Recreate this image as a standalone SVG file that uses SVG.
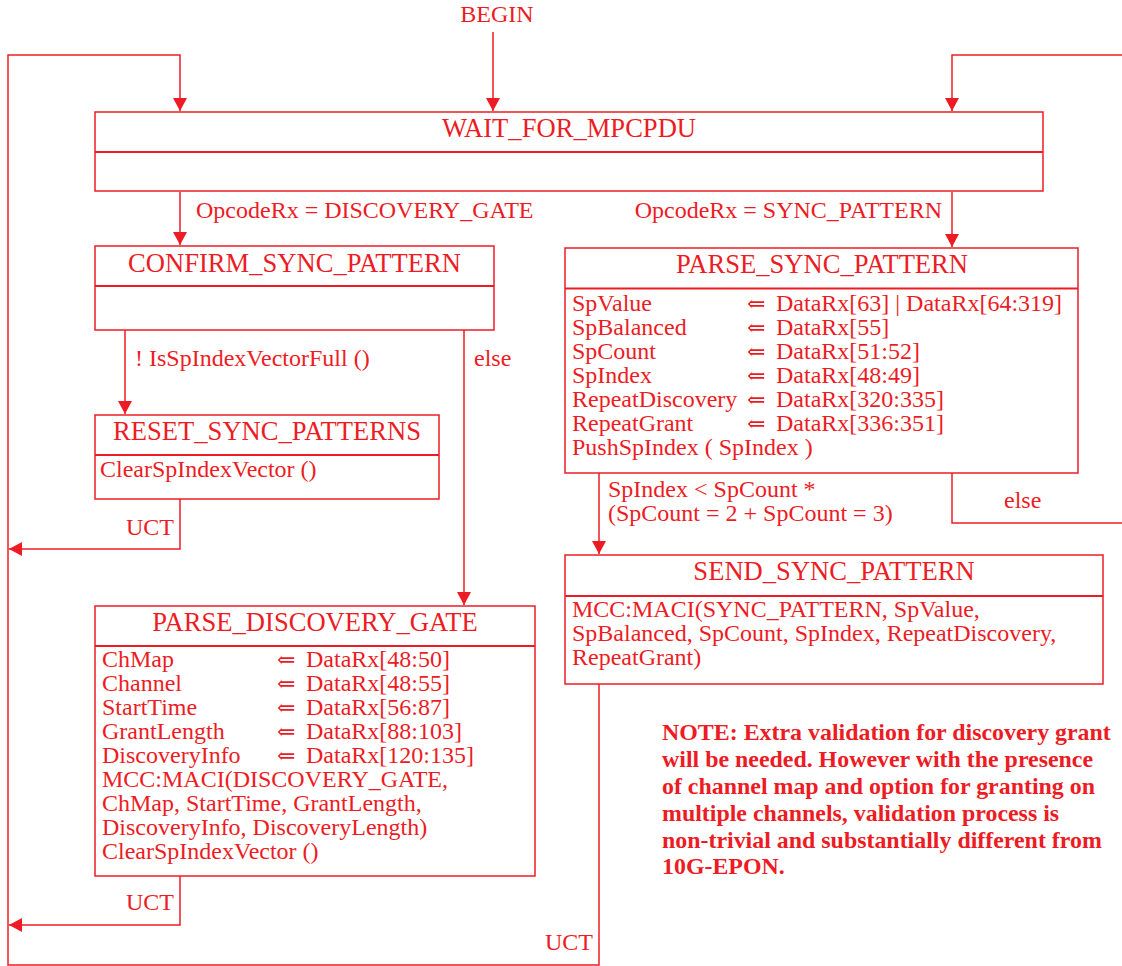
<svg xmlns="http://www.w3.org/2000/svg" width="1122" height="966" viewBox="0 0 1122 966">
<style>
text{font-family:"Liberation Serif","DejaVu Serif",serif;fill:#ED1C24;font-size:24px}
.t{font-size:26.6px;text-anchor:middle}
.e{text-anchor:end}
.n{font-weight:bold;font-size:23.9px}
.box{fill:#fff;stroke:#ED1C24;stroke-width:1.5}
.div{stroke:#ED1C24;stroke-width:2}
.c{fill:none;stroke:#ED1C24;stroke-width:1.5}
.ar{font-family:"DejaVu Serif","Liberation Serif",serif;font-size:22px}
</style>
<defs>
<marker id="a" markerUnits="userSpaceOnUse" markerWidth="14" markerHeight="14" refX="13" refY="7" orient="auto">
<path d="M0,0 L13,7 L0,14 z" fill="#ED1C24"/>
</marker>
</defs>
<rect width="1122" height="966" fill="#fff"/>
<g id="connectors">
<path class="c" d="M493,32 V111" marker-end="url(#a)"/>
<path class="c" d="M599,684 V965 H8 V55 H180 V111" marker-end="url(#a)"/>
<path class="c" d="M180,499 V549 H9" marker-end="url(#a)"/>
<path class="c" d="M180,876 V925 H9" marker-end="url(#a)"/>
<path class="c" d="M1122,55 H952 V111" marker-end="url(#a)"/>
<path class="c" d="M952,473 V523 H1122"/>
<path class="c" d="M180,192 V245" marker-end="url(#a)"/>
<path class="c" d="M952,192 V247" marker-end="url(#a)"/>
<path class="c" d="M125,330 V414" marker-end="url(#a)"/>
<path class="c" d="M464,330 V605" marker-end="url(#a)"/>
<path class="c" d="M599,473 V554" marker-end="url(#a)"/>
<text x="497" y="22" text-anchor="middle">BEGIN</text>
<text x="196" y="218">OpcodeRx = DISCOVERY_GATE</text>
<text x="942" y="218" class="e">OpcodeRx = SYNC_PATTERN</text>
<text x="135" y="366">! IsSpIndexVectorFull ()</text>
<text x="474" y="366">else</text>
<text x="174" y="535" class="e">UCT</text>
<text x="174" y="910" class="e">UCT</text>
<text x="593" y="950" class="e">UCT</text>
<text x="608" y="497">SpIndex &lt; SpCount *</text>
<text x="608" y="521">(SpCount = 2 + SpCount = 3)</text>
<text x="1004" y="508">else</text>
</g>
<g id="WAIT_FOR_MPCPDU">
<rect class="box" x="95" y="112" width="948" height="79"/>
<line class="div" x1="95" y1="152" x2="1043" y2="152"/>
<text class="t" x="569" y="137">WAIT_FOR_MPCPDU</text>
</g>
<g id="CONFIRM_SYNC_PATTERN">
<rect class="box" x="95" y="246" width="399" height="84"/>
<line class="div" x1="95" y1="286" x2="494" y2="286"/>
<text class="t" x="294.5" y="272">CONFIRM_SYNC_PATTERN</text>
</g>
<g id="RESET_SYNC_PATTERNS">
<rect class="box" x="95" y="415" width="344" height="84"/>
<line class="div" x1="95" y1="455" x2="439" y2="455"/>
<text class="t" x="267" y="440">RESET_SYNC_PATTERNS</text>
<text x="100" y="477">ClearSpIndexVector ()</text>
</g>
<g id="PARSE_SYNC_PATTERN">
<rect class="box" x="565" y="248" width="513" height="225"/>
<line class="div" x1="565" y1="288.5" x2="1078" y2="288.5"/>
<text class="t" x="822" y="273">PARSE_SYNC_PATTERN</text>
<text x="572" y="311">SpValue</text><text class="ar" x="747" y="311">⇐</text><text x="776" y="311">DataRx[63] | DataRx[64:319]</text>
<text x="572" y="335">SpBalanced</text><text class="ar" x="747" y="335">⇐</text><text x="776" y="335">DataRx[55]</text>
<text x="572" y="359">SpCount</text><text class="ar" x="747" y="359">⇐</text><text x="776" y="359">DataRx[51:52]</text>
<text x="572" y="383">SpIndex</text><text class="ar" x="747" y="383">⇐</text><text x="776" y="383">DataRx[48:49]</text>
<text x="572" y="407">RepeatDiscovery</text><text class="ar" x="747" y="407">⇐</text><text x="776" y="407">DataRx[320:335]</text>
<text x="572" y="431">RepeatGrant</text><text class="ar" x="747" y="431">⇐</text><text x="776" y="431">DataRx[336:351]</text>
<text x="572" y="455">PushSpIndex ( SpIndex )</text>
</g>
<g id="SEND_SYNC_PATTERN">
<rect class="box" x="565" y="555" width="538" height="129"/>
<line class="div" x1="565" y1="596" x2="1103" y2="596"/>
<text class="t" x="834" y="580">SEND_SYNC_PATTERN</text>
<text x="572" y="617">MCC:MACI(SYNC_PATTERN, SpValue,</text>
<text x="572" y="641">SpBalanced, SpCount, SpIndex, RepeatDiscovery,</text>
<text x="572" y="665">RepeatGrant)</text>
</g>
<g id="PARSE_DISCOVERY_GATE">
<rect class="box" x="95" y="606" width="440" height="270"/>
<line class="div" x1="95" y1="646" x2="535" y2="646"/>
<text class="t" x="315" y="631">PARSE_DISCOVERY_GATE</text>
<text x="102" y="667">ChMap</text><text class="ar" x="277" y="667">⇐</text><text x="306" y="667">DataRx[48:50]</text>
<text x="102" y="691">Channel</text><text class="ar" x="277" y="691">⇐</text><text x="306" y="691">DataRx[48:55]</text>
<text x="102" y="715">StartTime</text><text class="ar" x="277" y="715">⇐</text><text x="306" y="715">DataRx[56:87]</text>
<text x="102" y="739">GrantLength</text><text class="ar" x="277" y="739">⇐</text><text x="306" y="739">DataRx[88:103]</text>
<text x="102" y="763">DiscoveryInfo</text><text class="ar" x="277" y="763">⇐</text><text x="306" y="763">DataRx[120:135]</text>
<text x="102" y="787">MCC:MACI(DISCOVERY_GATE,</text>
<text x="102" y="811">ChMap, StartTime, GrantLength,</text>
<text x="102" y="835">DiscoveryInfo, DiscoveryLength)</text>
<text x="102" y="859">ClearSpIndexVector ()</text>
</g>
<g id="note">
<text class="n" x="662" y="740">NOTE: Extra validation for discovery grant</text>
<text class="n" x="662" y="767">will be needed. However with the presence</text>
<text class="n" x="662" y="794">of channel map and option for granting on</text>
<text class="n" x="662" y="821">multiple channels, validation process is</text>
<text class="n" x="662" y="848">non-trivial and substantially different from</text>
<text class="n" x="662" y="874">10G-EPON.</text>
</g>
</svg>
